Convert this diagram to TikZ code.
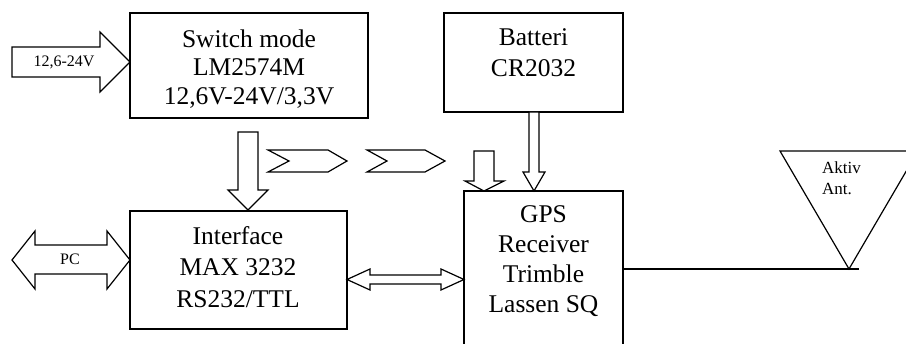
\documentclass[tikz,border=0pt]{standalone}
\usepackage{fontspec}
\setmainfont{Liberation Serif}
\begin{document}
\begin{tikzpicture}[x=1pt,y=-1pt,
  ln/.style={line width=1.2pt, line join=miter},
  box/.style={draw, ln, inner sep=0pt, outer sep=0pt},
  bigtxt/.style={font=\fontsize{25.5}{30}\selectfont, align=center, inner sep=0pt},
  smalltxt/.style={font=\fontsize{16}{21}\selectfont, inner sep=0pt},
  barrow/.style={draw, ln, fill=white}]
\useasboundingbox (0,0) rectangle (906,344);
\clip (0,0) rectangle (906,344);
% boxes
\node[box, minimum width=238pt, minimum height=105pt] (sw) at (249,65.5) {};
\node[box, minimum width=179pt, minimum height=99pt] (bat) at (533.5,62.5) {};
\node[box, minimum width=217pt, minimum height=118pt] (intf) at (238.5,270) {};
\node[box, minimum width=159pt, minimum height=169pt] (gps) at (543.5,275.5) {};
% texts
\node[bigtxt, font=\fontsize{25.5}{28.5}\selectfont] (swt) at (249,69) {Switch mode\\LM2574M\\12,6V-24V/3,3V};
\node[bigtxt, font=\fontsize{25.5}{31}\selectfont] (batt) at (533.5,53) {Batteri\\CR2032};
\node[bigtxt, font=\fontsize{25.5}{31.5}\selectfont] (intt) at (238,267) {Interface\\MAX 3232\\RS232/TTL};
\node[bigtxt] (gpst) at (543.5,261) {GPS\\Receiver\\Trimble\\Lassen SQ};
% input arrow
\draw[barrow] (12,47) -- (100,47) -- (100,32) -- (sw.west |- 0,62) -- (100,92) -- (100,77) -- (12,77) -- cycle;
\node[smalltxt] (vin) at (64,62) {12,6-24V};
% PC double arrow
\draw[barrow] (12,260) -- (35,231) -- (35,245) -- (107,245) -- (107,231) -- (intf.west |- 0,260) -- (107,289) -- (107,274) -- (35,274) -- (35,289) -- cycle;
\node[smalltxt] (pc) at (70,259) {PC};
% interface - gps double arrow
\draw[barrow] (intf.east |- 0,279.5) -- (370,269) -- (370,275) -- (441,275) -- (441,269) -- (gps.west |- 0,279.5) -- (441,290) -- (441,284) -- (370,284) -- (370,290) -- cycle;
% switch down arrow
\draw[barrow] (238,132) -- (258,132) -- (258,190) -- (268,190) -- (248,210) -- (228,190) -- (238,190) -- cycle;
% chevrons
\draw[barrow] (268,150) -- (328,150) -- (347,161) -- (328,172) -- (268,172) -- (289,161) -- cycle;
\draw[barrow] (367,150) -- (425,150) -- (445,161) -- (425,172) -- (367,172) -- (387,161) -- cycle;
% small arrow above gps
\draw[barrow] (474,151) -- (494,151) -- (494,181) -- (504,181) -- (484,0 |- gps.north) -- (465,181) -- (474,181) -- cycle;
% battery arrow
\draw[barrow] (529,0 |- bat.south) -- (539,0 |- bat.south) -- (539,172) -- (545,172) -- (534,0 |- gps.north) -- (523,172) -- (529,172) -- cycle;
% antenna
\coordinate (antb) at (849,269);
\coordinate (lend) at (859,269);
\draw[ln] (780,151) -- (918,151) -- (antb) -- cycle;
\draw[ln] (gps.east |- antb) -- (lend);
\node[smalltxt, align=left, font=\fontsize{17}{21}\selectfont, anchor=north west] (ant) at (822,162) {Aktiv\\Ant.};
\end{tikzpicture}
\end{document}
